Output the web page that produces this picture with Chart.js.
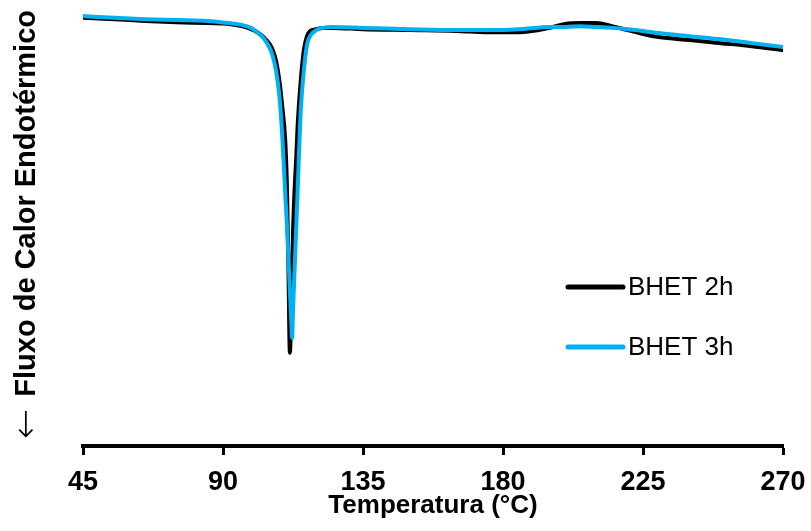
<!DOCTYPE html>
<html>
<head>
<meta charset="utf-8">
<script src="https://cdn.jsdelivr.net/npm/chart.js@4"></script>
<style>
  html, body { margin: 0; padding: 0; background: #fff; }
  #wrap { width: 811px; height: 531px; }
</style>
</head>
<body>
<div id="wrap"><canvas id="myChart" width="811" height="531"></canvas></div>
<script>
// temperatura (°C)
const temps = [45, 55, 65, 75, 85, 92, 96, 99, 101, 103, 105, 106, 107, 108, 109, 110, 110.5, 111, 111.5, 112,
  112.2, 112.5, 113, 113.5, 114, 115, 116, 117, 118, 120, 122, 125, 135, 150, 165, 175, 185, 195, 200, 205,
  210, 215, 220, 225, 230, 240, 250, 260, 270];

// fluxo de calor (u.a.)
const bhet2h = [9.82, 9.79, 9.75, 9.72, 9.70, 9.68, 9.63, 9.56, 9.49, 9.38, 9.22, 9.08, 8.85, 8.44, 7.82, 7.01, 6.09, 4.25, 2.14, 3.33,
  3.91, 4.87, 5.86, 6.55, 7.36, 8.39, 9.08, 9.40, 9.52, 9.56, 9.59, 9.59, 9.56, 9.54, 9.52, 9.49, 9.49, 9.59, 9.68, 9.70,
  9.70, 9.63, 9.54, 9.45, 9.38, 9.31, 9.24, 9.17, 9.08];

const bhet3h = [9.86, 9.82, 9.79, 9.77, 9.75, 9.70, 9.66, 9.59, 9.49, 9.36, 9.13, 8.94, 8.62, 8.11, 7.17, 5.79, 5.13, 4.37, 3.56, 2.76,
  2.48, 3.10, 4.02, 4.94, 5.86, 7.70, 8.62, 9.20, 9.40, 9.54, 9.59, 9.61, 9.59, 9.56, 9.54, 9.54, 9.56, 9.61, 9.61, 9.63,
  9.61, 9.59, 9.56, 9.52, 9.47, 9.40, 9.33, 9.24, 9.15];

const xTicks = [45, 90, 135, 180, 225, 270];

const FONT = "'Liberation Sans', Arial, sans-serif";

function pts(ys) {
  return temps.map((t, i) => ({ x: t, y: ys[i] }));
}

// legenda desenhada à mão (linha + texto, uma entrada por linha)
const sideLegend = {
  id: 'sideLegend',
  afterDraw(chart, args, opts) {
    const ctx = chart.ctx;
    ctx.save();
    ctx.font = '26px ' + FONT;
    ctx.textBaseline = 'middle';
    ctx.lineCap = 'round';
    chart.data.datasets.forEach((ds, i) => {
      const y = opts.y + i * opts.gap;
      ctx.strokeStyle = ds.borderColor;
      ctx.lineWidth = 5;
      ctx.beginPath();
      ctx.moveTo(opts.x, y);
      ctx.lineTo(opts.x + opts.len, y);
      ctx.stroke();
      ctx.fillStyle = '#000';
      ctx.fillText(ds.label, opts.x + opts.len + 5, y + 1);
    });
    ctx.restore();
  }
};

// seta fina abaixo do título do eixo y
const flowArrow = {
  id: 'flowArrow',
  afterDraw(chart, args, opts) {
    const ctx = chart.ctx;
    ctx.save();
    ctx.translate(opts.x, opts.y);
    ctx.rotate(-Math.PI / 2);
    ctx.font = "200 36px 'DejaVu Sans', sans-serif";
    ctx.fillStyle = '#000';
    ctx.textAlign = 'center';
    ctx.textBaseline = 'middle';
    ctx.fillText('←', 0, 0);
    ctx.restore();
  }
};

const ctx = document.getElementById('myChart').getContext('2d');
window._myChart = new Chart(ctx, {
  type: 'line',
  data: {
    datasets: [{
      label: 'BHET 2h',
      data: pts(bhet2h),
      borderColor: '#000000',
      borderWidth: 4,
      order: 1
    }, {
      label: 'BHET 3h',
      data: pts(bhet3h),
      borderColor: '#00B0F0',
      borderWidth: 4,
      order: 0
    }]
  },
  options: {
    responsive: false,
    animation: false,
    events: [],
    layout: { padding: { top: 10, right: 28, bottom: 8, left: 0 } },
    elements: {
      point: { radius: 0 },
      line: { cubicInterpolationMode: 'monotone', borderCapStyle: 'round', borderJoinStyle: 'round' }
    },
    plugins: {
      legend: { display: false },
      tooltip: { enabled: false },
      sideLegend: { x: 568, y: 287, gap: 60, len: 55 },
      flowArrow: { x: 28, y: 424 }
    },
    scales: {
      x: {
        type: 'linear',
        min: 45,
        max: 270,
        afterBuildTicks: s => { s.ticks = xTicks.map(v => ({ value: v })); },
        afterFit: s => { s.paddingRight = 0; s.paddingLeft = 0; },
        ticks: {
          color: '#000',
          padding: 14,
          maxRotation: 0,
          font: { family: FONT, size: 27, weight: 'bold', lineHeight: 1 }
        },
        grid: {
          display: true,
          drawOnChartArea: false,
          drawTicks: true,
          tickLength: 9,
          tickWidth: 3,
          tickColor: '#000',
          color: '#000'
        },
        border: { display: true, color: '#000', width: 4 },
        title: {
          display: true,
          text: 'Temperatura (°C)',
          color: '#000',
          padding: { top: -17, bottom: 4 },
          font: { family: FONT, size: 26, weight: 'bold', lineHeight: 1 }
        }
      },
      y: {
        min: 0,
        max: 10,
        afterFit: s => { s.width = 83; },
        ticks: { display: false },
        grid: { display: false },
        border: { display: false },
        title: {
          display: true,
          text: 'Fluxo de Calor Endotérmico',
          align: 'end',
          color: '#000',
          padding: { top: 12, bottom: 0 },
          font: { family: FONT, size: 29, weight: 'bold', lineHeight: 1 }
        }
      }
    }
  },
  plugins: [sideLegend, flowArrow]
});
</script>
</body>
</html>
